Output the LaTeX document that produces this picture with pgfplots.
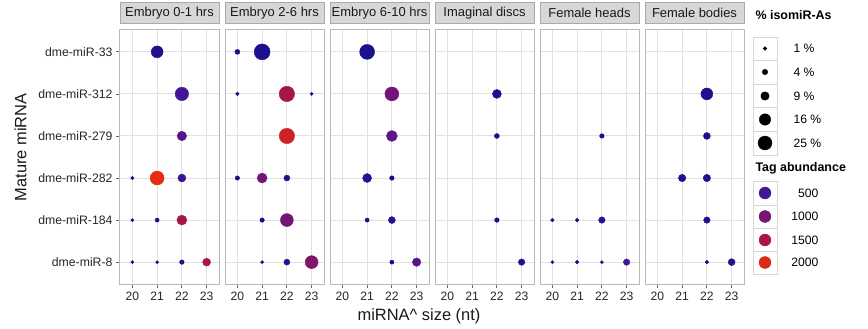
\documentclass[border=0pt]{standalone}
\usepackage{fontspec}
\setmainfont{Liberation Sans}
\usepackage{pgfplots}
\pgfplotsset{compat=1.18}
\definecolor{strip}{RGB}{215,215,215}
\definecolor{stripb}{RGB}{170,170,170}
\definecolor{gridc}{RGB}{225,225,225}
\definecolor{framec}{RGB}{185,185,185}
\definecolor{keyb}{RGB}{215,215,215}
\newcommand\fs[1]{\fontsize{#1}{#1}\selectfont}
\pgfplotsset{
  colormap={abund}{rgb255(0cm)=(15,15,140) rgb255(5cm)=(68,22,148) rgb255(10cm)=(120,20,115) rgb255(15cm)=(170,22,70) rgb255(20cm)=(220,40,22) rgb255(22cm)=(235,45,12)},
  colormap name=abund,
  point meta min=0, point meta max=2200,
  panel/.style={
    scale only axis, width=99bp, height=254bp,
    xmin=19.5, xmax=23.5, ymin=0.48, ymax=6.52,
    xtick={20,21,22,23}, xticklabels={20,21,22,23},
    ytick={1,2,3,4,5,6}, yticklabels={},
    xtick pos=bottom, ytick pos=left, tick align=outside,
    major tick length=4bp,
    grid=major, major grid style={gridc, line width=1bp},
    axis line style={framec, line width=1bp},
    tick style={black!60, line width=0.8bp},
    xticklabel style={font=\fs{12.2}, text=black!85},
    yticklabel style={font=\fs{12.3}, text=black!85},
    clip=false,
    title style={at={(0.5,1)}, anchor=south, yshift=0pt, fill=strip, draw=stripb,
      line width=0.8bp, minimum width=99bp, minimum height=21bp, inner sep=0pt,
      font=\fs{13}, text=black!90},
  },
  dots/.style={scatter, only marks, mark=*, scatter src=explicit,
    scatter/use mapped color={draw=mapped color, fill=mapped color},
    visualization depends on={0.5*\thisrow{d} \as \rad},
    scatter/@pre marker code/.append style={/tikz/mark size=\rad}},
}
\begin{document}
\begin{tikzpicture}
\useasboundingbox (-120bp,-45bp) rectangle (748bp,284bp);

% Embryo 0-1 hrs
\begin{axis}[panel, at={(0bp,0bp)}, anchor=south west, title={Embryo 0-1 hrs},
  yticklabels={dme-miR-8,dme-miR-184,dme-miR-282,dme-miR-279,dme-miR-312,dme-miR-33}]
\addplot[dots] table[x=x,y=y,meta=c,row sep=\\]{
x y d c\\
21 6 12 150\\
22 5 13.5 480\\
22 4 9.5 680\\
20 3 3.6 50\\
21 3 14 2120\\
22 3 8 380\\
20 2 3.2 50\\
21 2 4.2 100\\
22 2 10 1450\\
20 1 3.2 50\\
21 1 3 50\\
22 1 4.6 100\\
23 1 8 1500\\
};
\end{axis}

% Embryo 2-6 hrs
\begin{axis}[panel, at={(105bp,0bp)}, anchor=south west, title={Embryo 2-6 hrs}, y tick style={draw=none}]
\addplot[dots] table[x=x,y=y,meta=c,row sep=\\]{
x y d c\\
20 6 5 80\\
21 6 16 110\\
20 5 3.6 50\\
22 5 15.5 1450\\
23 5 3.2 50\\
22 4 15.5 1850\\
20 3 4.5 80\\
21 3 10 950\\
22 3 6 150\\
21 2 4.5 100\\
22 2 13 950\\
21 1 3.2 50\\
22 1 6 150\\
23 1 13 1100\\
};
\end{axis}

% Embryo 6-10 hrs
\begin{axis}[panel, at={(210bp,0bp)}, anchor=south west, title={Embryo 6-10 hrs}, y tick style={draw=none}]
\addplot[dots] table[x=x,y=y,meta=c,row sep=\\]{
x y d c\\
21 6 15 120\\
22 5 14 950\\
22 4 11 750\\
21 3 9 200\\
22 3 4.6 100\\
21 2 4.2 80\\
22 2 7 200\\
22 1 4.2 80\\
23 1 8.5 650\\
};
\end{axis}

% Imaginal discs
\begin{axis}[panel, at={(315bp,0bp)}, anchor=south west, title={Imaginal discs}, y tick style={draw=none}]
\addplot[dots] table[x=x,y=y,meta=c,row sep=\\]{
x y d c\\
22 5 9 150\\
22 4 5 80\\
22 2 4.6 80\\
23 1 6.5 150\\
};
\end{axis}

% Female heads
\begin{axis}[panel, at={(420bp,0bp)}, anchor=south west, title={Female heads}, y tick style={draw=none}]
\addplot[dots] table[x=x,y=y,meta=c,row sep=\\]{
x y d c\\
22 4 4.6 80\\
20 2 3.6 50\\
21 2 3.6 50\\
22 2 6.5 200\\
20 1 3 50\\
21 1 3.6 50\\
22 1 3 50\\
23 1 6.5 520\\
};
\end{axis}

% Female bodies
\begin{axis}[panel, at={(525bp,0bp)}, anchor=south west, title={Female bodies}, y tick style={draw=none}]
\addplot[dots] table[x=x,y=y,meta=c,row sep=\\]{
x y d c\\
22 5 12 150\\
22 4 7 100\\
21 3 7.5 150\\
22 3 7.5 150\\
22 2 6.5 120\\
22 1 3.6 60\\
23 1 7 200\\
};
\end{axis}

% axis titles
\node[font=\fs{16.5}, text=black!90] at (299bp,-32bp) {miRNA\textasciicircum{} size (nt)};
\node[font=\fs{16.5}, text=black!90, rotate=90] at (-99.5bp,136.5bp) {Mature miRNA};

% legend
\begin{axis}[scale only axis, width=123bp, height=329bp, at={(625bp,-45bp)}, anchor=south west,
  xmin=745, xmax=868, ymin=0, ymax=329, y dir=reverse, hide axis, clip=false]
\node[anchor=west, font=\bfseries\fs{12.5}] at (axis cs:752,15) {\% isomiR-As};
\draw[keyb, line width=0.8bp] (axis cs:753,37) rectangle (axis cs:777,60.5);
\draw[keyb, line width=0.8bp] (axis cs:753,60.5) rectangle (axis cs:777,84);
\draw[keyb, line width=0.8bp] (axis cs:753,84) rectangle (axis cs:777,107.5);
\draw[keyb, line width=0.8bp] (axis cs:753,107.5) rectangle (axis cs:777,131);
\draw[keyb, line width=0.8bp] (axis cs:753,131) rectangle (axis cs:777,155);
\addplot[only marks, mark=*, black, visualization depends on={0.5*\thisrow{d} \as \rad},
  scatter, scatter src=explicit, scatter/use mapped color={draw=black, fill=black},
  scatter/@pre marker code/.append style={/tikz/mark size=\rad}]
  table[x=x,y=y,meta=c,row sep=\\]{
x y d c\\
765 48.5 3.6 0\\
765 72 5.5 0\\
765 96 8.5 0\\
765 119.5 11.5 0\\
765 143 14 0\\
};
\node[anchor=west, font=\fs{12.2}] at (axis cs:790,48.5) {1 \%};
\node[anchor=west, font=\fs{12.2}] at (axis cs:790,72) {4 \%};
\node[anchor=west, font=\fs{12.2}] at (axis cs:790,96) {9 \%};
\node[anchor=west, font=\fs{12.2}] at (axis cs:790,119.5) {16 \%};
\node[anchor=west, font=\fs{12.2}] at (axis cs:790,143) {25 \%};
\node[anchor=west, font=\bfseries\fs{12.5}] at (axis cs:752,168) {Tag abundance};
\draw[keyb, line width=0.8bp] (axis cs:753,181) rectangle (axis cs:777,205);
\draw[keyb, line width=0.8bp] (axis cs:753,205) rectangle (axis cs:777,228.5);
\draw[keyb, line width=0.8bp] (axis cs:753,228.5) rectangle (axis cs:777,251);
\draw[keyb, line width=0.8bp] (axis cs:753,251) rectangle (axis cs:777,274);
\addplot[dots] table[x=x,y=y,meta=c,row sep=\\]{
x y d c\\
765 193 12 500\\
765 216.5 12 1000\\
765 240 12 1500\\
765 262.5 12 2000\\
};
\node[anchor=east, font=\fs{12.2}] at (axis cs:822,193) {500};
\node[anchor=east, font=\fs{12.2}] at (axis cs:822,216.5) {1000};
\node[anchor=east, font=\fs{12.2}] at (axis cs:822,240) {1500};
\node[anchor=east, font=\fs{12.2}] at (axis cs:822,262.5) {2000};
\end{axis}
\end{tikzpicture}
\end{document}
